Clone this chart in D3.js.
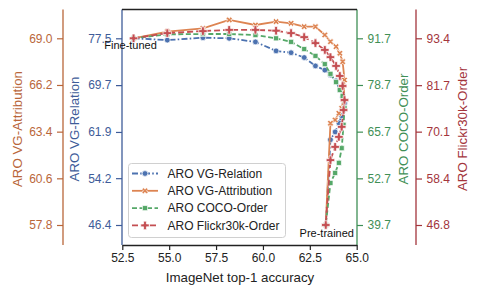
<!DOCTYPE html>
<meta charset="utf-8">
<head>
	<script src="https://d3js.org/d3.v7.min.js"></script>
</head>
<style>
	body { margin: 0; background: #fff; }
	svg text { font-family: "Liberation Sans", Arial, sans-serif; }
	.line { fill: none; stroke-width: 1.8px; }
</style>
<body>
<svg id="chart" width="479" height="295"></svg>
<script>
	// ImageNet top-1 along the path from fine-tuned (first) to pre-trained (last)
	var imagenetAcc = [53.1, 54.9, 56.8, 58.2, 59.6, 60.7, 61.5, 62.2, 62.8, 63.3, 63.6,
		63.9, 64.1, 64.25, 64.35, 64.3, 64.2, 64.05, 63.85, 63.6, 63.35];
	var vgRelation = [77.5, 77.2, 77.6, 77.5, 76.9, 75.4, 75.1, 74.3, 72.9, 72.2, 71.4,
		70.4, 68.9, 67.7, 66.7, 65.6, 64.6, 63.4, 61.9, 60.6, 46.4];
	var vgAttribution = [69.0, 69.4, 69.6, 70.1, 69.8, 70.0, 69.9, 69.7, 69.7, 69.2, 68.8,
		68.5, 68.1, 67.6, 66.5, 65.3, 64.8, 64.5, 64.1, 63.9, 57.8];
	var cocoOrder = [91.7, 92.8, 92.9, 92.9, 92.6, 91.7, 90.7, 88.7, 86.8, 84.5, 81.8,
		79.5, 77.3, 75.6, 72.3, 67.6, 61.1, 57.0, 54.2, 51.4, 39.7];
	var flickrOrder = [93.4, 94.7, 95.2, 95.5, 95.5, 95.3, 94.7, 93.7, 92.2, 90.5, 88.7,
		86.5, 84.0, 81.5, 78.0, 75.5, 71.3, 68.8, 66.3, 63.0, 46.8];

	// tick labels
	var xTicks = [52.5, 55.0, 57.5, 60.0, 62.5, 65.0];
	var relationTicks = [46.4, 54.2, 61.9, 69.7, 77.5];
	var attributionTicks = [57.8, 60.6, 63.4, 66.2, 69.0];
	var cocoTicks = [39.7, 52.7, 65.7, 78.7, 91.7];
	var flickrTicks = [46.8, 58.4, 70.1, 81.7, 93.4];

	var svg = d3.select("#chart");
	var top_ = 9.5, bottom = 245, left = 122, right = 357;

	var x = d3.scaleLinear().domain([52.5, 65]).range([122.3, 356.7]);
	// every y axis puts its five ticks on the same rows
	function yScale(ticks) {
		return d3.scaleLinear()
			.domain([ticks[0], ticks[ticks.length - 1]])
			.range([225, 38.3]);
	}
	var yRel = yScale(relationTicks),
	    yAttr = yScale(attributionTicks),
	    yCoco = yScale(cocoTicks),
	    yFlickr = yScale(flickrTicks);

	var series = [
		{ name: "ARO VG-Relation", values: vgRelation, y: yRel, color: "#4C72B0",
		  dash: "6,2.2,1.6,2.2", symbol: d3.symbolCircle, size: 26, rot: 0 },
		{ name: "ARO VG-Attribution", values: vgAttribution, y: yAttr, color: "#DD8452",
		  dash: null, symbol: d3.symbolCross, size: 24, rot: 45 },
		{ name: "ARO COCO-Order", values: cocoOrder, y: yCoco, color: "#55A868",
		  dash: "5,2.5", symbol: d3.symbolSquare, size: 26, rot: 0 },
		{ name: "ARO Flickr30k-Order", values: flickrOrder, y: yFlickr, color: "#C44E52",
		  dash: "6,3", symbol: d3.symbolCross, size: 40, rot: 0 }
	];

	// ***** axes *****
	function drawAxis(axis, xpos, color, labelText, labelX) {
		var g = svg.append("g")
			.attr("transform", "translate(" + xpos + ",0)")
			.call(axis.tickFormat(d3.format(".1f")).tickSize(6).tickPadding(4.5));
		g.select(".domain").remove();
		g.selectAll(".tick line").attr("stroke", color).attr("stroke-width", 1.2);
		g.selectAll(".tick text").attr("fill", color).style("font-size", "12px");
		svg.append("line")
			.attr("x1", xpos).attr("x2", xpos)
			.attr("y1", top_).attr("y2", bottom)
			.attr("stroke", color).attr("stroke-width", 1.3);
		svg.append("text")
			.attr("transform", "translate(" + labelX + ",129) rotate(-90)")
			.attr("text-anchor", "middle")
			.attr("dy", "0.35em")
			.attr("fill", color)
			.style("font-size", "13.3px")
			.text(labelText);
	}

	drawAxis(d3.axisLeft(yAttr).tickValues(attributionTicks), 63, "#B9663A", "ARO VG-Attribution", 17);
	drawAxis(d3.axisLeft(yRel).tickValues(relationTicks), left, "#3E5C99", "ARO VG-Relation", 74);
	drawAxis(d3.axisRight(yCoco).tickValues(cocoTicks), right, "#3F8F56", "ARO COCO-Order", 403);
	drawAxis(d3.axisRight(yFlickr).tickValues(flickrTicks), 416, "#A3353C", "ARO Flickr30k-Order", 462);

	var xg = svg.append("g")
		.attr("transform", "translate(0," + bottom + ")")
		.call(d3.axisBottom(x).tickValues(xTicks).tickFormat(d3.format(".1f"))
			.tickSize(5).tickSizeOuter(0).tickPadding(3.5));
	xg.select(".domain").attr("stroke", "#222").attr("stroke-width", 1.3);
	xg.selectAll(".tick line").attr("stroke", "#222").attr("stroke-width", 1.2);
	xg.selectAll(".tick text").attr("fill", "#222").style("font-size", "12px");

	svg.append("line")
		.attr("x1", left).attr("x2", right)
		.attr("y1", top_).attr("y2", top_)
		.attr("stroke", "#222").attr("stroke-width", 1.3);

	svg.append("text")
		.attr("x", 240).attr("y", 282)
		.attr("text-anchor", "middle")
		.attr("fill", "#222")
		.style("font-size", "13.3px")
		.text("ImageNet top-1 accuracy");

	// ***** lines and markers *****
	function markerPath(s) {
		return d3.symbol().type(s.symbol).size(s.size)();
	}

	series.forEach(function(s) {
		var line = d3.line()
			.x(function(d, i) { return x(imagenetAcc[i]); })
			.y(function(d) { return s.y(d); });
		svg.append("path")
			.attr("class", "line")
			.attr("d", line(s.values))
			.attr("stroke", s.color)
			.attr("stroke-dasharray", s.dash);
		svg.append("g").selectAll("path")
			.data(s.values)
			.enter().append("path")
			.attr("d", markerPath(s))
			.attr("transform", function(d, i) {
				return "translate(" + x(imagenetAcc[i]) + "," + s.y(d) + ") rotate(" + s.rot + ")";
			})
			.attr("fill", s.color)
			.attr("stroke", "#fff")
			.attr("stroke-width", 0.7);
	});

	// ***** annotations *****
	var last = imagenetAcc.length - 1;
	svg.append("text")
		.attr("x", x(imagenetAcc[0]) - 3)
		.attr("y", yRel(vgRelation[0]) + 11)
		.attr("text-anchor", "middle")
		.attr("fill", "#111")
		.style("font-size", "11px")
		.text("Fine-tuned");
	svg.append("text")
		.attr("x", x(imagenetAcc[last]) + 1)
		.attr("y", yFlickr(flickrOrder[last]) + 12)
		.attr("text-anchor", "middle")
		.attr("fill", "#111")
		.style("font-size", "11px")
		.text("Pre-trained");

	// ***** legend *****
	var legend = svg.append("g").attr("transform", "translate(128,163)");
	legend.append("rect")
		.attr("x", 0.5).attr("y", 0.5)
		.attr("width", 157).attr("height", 74)
		.attr("rx", 3)
		.attr("fill", "#fff").attr("fill-opacity", 0.85)
		.attr("stroke", "#d0d0d0").attr("stroke-width", 1);
	series.forEach(function(s, i) {
		var row = legend.append("g").attr("transform", "translate(0," + (10.5 + i * 17.3) + ")");
		row.append("line")
			.attr("x1", 4).attr("x2", 30)
			.attr("stroke", s.color)
			.attr("stroke-width", 1.8)
			.attr("stroke-dasharray", s.dash);
		row.append("path")
			.attr("d", markerPath(s))
			.attr("transform", "translate(17,0) rotate(" + s.rot + ")")
			.attr("fill", s.color)
			.attr("stroke", "#fff")
			.attr("stroke-width", 0.7);
		row.append("text")
			.attr("x", 39.5)
			.attr("dy", "0.35em")
			.attr("fill", "#222")
			.style("font-size", "12px")
			.text(s.name);
	});
</script>
</body>
